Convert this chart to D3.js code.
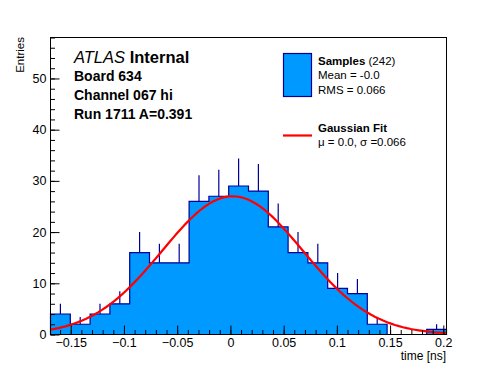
<!DOCTYPE html>
<html>
<head>
<meta charset="utf-8">
<script src="https://cdn.jsdelivr.net/npm/d3@7"></script>
<style>
body { margin: 0; background: #fff; }
svg { display: block; font-family: "Liberation Sans", Arial, Helvetica, sans-serif; }
</style>
</head>
<body>
<svg id="chart" width="496" height="372"></svg>
<script>
// histogram contents, 20 equal bins spanning the x range
var binCounts = [4, 2, 4, 6, 16, 14, 14, 26, 27, 29, 28, 21, 16, 14, 9, 8, 2, 0, 0, 1];
var xRange = [-0.169, 0.203];
var yRange = [0, 58];
var xTicks = [-0.15, -0.1, -0.05, 0, 0.05, 0.1, 0.15, 0.2];
var yTicks = [0, 10, 20, 30, 40, 50];
var sampleCount = 242;

// gaussian fit parameters
var fitAmp = 27.0, fitMean = 0.002, fitSigma = 0.066;

var infoLines = ["Board 634", "Channel 067 hi", "Run 1711 A=0.391"];
var statLines = ["Mean = -0.0", "RMS = 0.066"];

var fillCol = "#0099ff", lineCol = "#000099";

var svg = d3.select("#chart");
var padL = 50.5, padR = 446.5, padT = 37.5, padB = 334.5;

var x = d3.scaleLinear().domain(xRange).range([padL, padR]);
var y = d3.scaleLinear().domain(yRange).range([padB, padT]);

var nb = binCounts.length;
var bw = (xRange[1] - xRange[0]) / nb;
var bins = binCounts.map(function (c, i) {
    return {lo: xRange[0] + i * bw, hi: xRange[0] + (i + 1) * bw, n: c};
});

// filled histogram outline (only the contour, like ROOT HIST)
var pts = [[x(bins[0].lo), y(0)]];
bins.forEach(function (b) {
    pts.push([x(b.lo), y(b.n)]);
    pts.push([x(b.hi), y(b.n)]);
});
pts.push([x(bins[nb - 1].hi), y(0)]);

svg.append("path")
    .attr("d", d3.line()(pts) + "Z")
    .attr("fill", fillCol)
    .attr("stroke", lineCol)
    .attr("stroke-width", 1.2);

// error bars (upper half shows above the fill)
svg.selectAll("line.err")
    .data(bins.filter(function (b) { return b.n > 0; }))
    .enter()
    .append("line")
    .attr("class", "err")
    .attr("x1", function (d) { return x((d.lo + d.hi) / 2); })
    .attr("x2", function (d) { return x((d.lo + d.hi) / 2); })
    .attr("y1", function (d) { return y(d.n); })
    .attr("y2", function (d) { return y(d.n + Math.sqrt(d.n)); })
    .attr("stroke", lineCol)
    .attr("stroke-width", 1.2);

// fit curve, 100 points over the axis range
var fitPts = d3.range(0, 101).map(function (i) {
    var t = xRange[0] + i * (xRange[1] - xRange[0]) / 100;
    var z = (t - fitMean) / fitSigma;
    return [t, fitAmp * Math.exp(-0.5 * z * z)];
});
svg.append("path")
    .attr("d", d3.line().x(function (d) { return x(d[0]); }).y(function (d) { return y(d[1]); })(fitPts))
    .attr("fill", "none")
    .attr("stroke", "#ff0000")
    .attr("stroke-width", 2.2);

// frame
svg.append("rect")
    .attr("x", padL).attr("y", padT)
    .attr("width", padR - padL).attr("height", padB - padT)
    .attr("fill", "none").attr("stroke", "#000").attr("stroke-width", 1);

// axes: ticks point inward
var fmt = function (v) { return v === 0 ? "0" : d3.format("")(v).replace("-", "\u2212"); };

var yAx = svg.append("g").attr("transform", "translate(" + padL + ",0)")
    .call(d3.axisLeft(y).tickValues(yTicks).tickSize(-9).tickPadding(4).tickFormat(fmt));
var yMin = svg.append("g").attr("transform", "translate(" + padL + ",0)")
    .call(d3.axisLeft(y).tickValues(d3.range(0, 58.1, 2)).tickSize(-4.5).tickFormat(""));

var xAx = svg.append("g").attr("transform", "translate(0," + padB + ")")
    .call(d3.axisBottom(x).tickValues(xTicks).tickSize(-9).tickPadding(3.5).tickFormat(fmt));
var xMin = svg.append("g").attr("transform", "translate(0," + padB + ")")
    .call(d3.axisBottom(x).tickValues(d3.range(-16, 21).map(function (k) { return k / 100; })).tickSize(-4.5).tickFormat(""));

[yAx, yMin, xAx, xMin].forEach(function (g) {
    g.select(".domain").remove();
    g.selectAll("line").attr("stroke", "#000");
    g.selectAll("text").attr("font-size", 12.5).attr("fill", "#000")
        .attr("font-family", "'Liberation Sans', Arial, sans-serif");
});

// axis titles
svg.append("text")
    .attr("transform", "translate(24,37) rotate(-90)")
    .attr("text-anchor", "end")
    .attr("font-size", 11.5)
    .text("Entries");

svg.append("text")
    .attr("x", 446).attr("y", 360)
    .attr("text-anchor", "end")
    .attr("font-size", 12)
    .text("time [ns]");

// ATLAS label and run info
var atl = svg.append("text").attr("x", 74).attr("y", 62.5).attr("font-size", 16.5);
atl.append("tspan").attr("font-style", "italic").text("ATLAS");
atl.append("tspan").attr("font-weight", "bold").text(" Internal");

svg.selectAll("text.info")
    .data(infoLines)
    .enter()
    .append("text")
    .attr("class", "info")
    .attr("x", 74)
    .attr("y", function (d, i) { return 81 + i * 18.8; })
    .attr("font-size", 14)
    .attr("font-weight", "bold")
    .text(function (d) { return d; });

// legend
svg.append("rect")
    .attr("x", 283.5).attr("y", 53.5).attr("width", 28).attr("height", 43)
    .attr("fill", fillCol).attr("stroke", lineCol).attr("stroke-width", 1.2);

var s1 = svg.append("text").attr("x", 318).attr("y", 65).attr("font-size", 11.5);
s1.append("tspan").attr("font-weight", "bold").text("Samples");
s1.append("tspan").text(" (" + sampleCount + ")");

svg.selectAll("text.stat")
    .data(statLines)
    .enter()
    .append("text")
    .attr("class", "stat")
    .attr("x", 318)
    .attr("y", function (d, i) { return 79 + i * 14.5; })
    .attr("font-size", 11.5)
    .text(function (d) { return d; });

svg.append("line")
    .attr("x1", 283).attr("x2", 312).attr("y1", 135.5).attr("y2", 135.5)
    .attr("stroke", "#ff0000").attr("stroke-width", 2.2);

svg.append("text").attr("x", 318).attr("y", 132).attr("font-size", 11.5)
    .attr("font-weight", "bold").text("Gaussian Fit");
svg.append("text").attr("x", 318).attr("y", 145.5).attr("font-size", 11.5)
    .text("\u03bc = " + fitMean.toFixed(1) + ", \u03c3 =" + fitSigma.toFixed(3));
</script>
</body>
</html>
